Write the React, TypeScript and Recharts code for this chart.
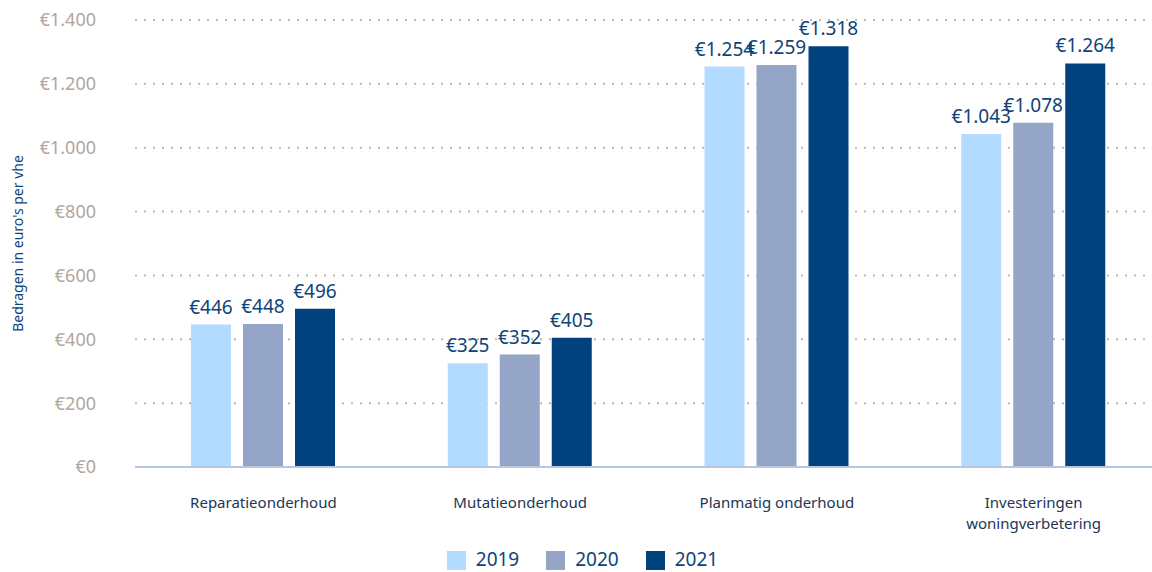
import { BarChart, Bar, XAxis, YAxis, CartesianGrid, Legend, LabelList } from "recharts";

const categories = [
  "Reparatieonderhoud",
  "Mutatieonderhoud",
  "Planmatig onderhoud",
  "Investeringen woningverbetering",
];
const values2019 = [446, 325, 1254, 1043];
const values2020 = [448, 352, 1259, 1078];
const values2021 = [496, 405, 1318, 1264];
const yTicks = [0, 200, 400, 600, 800, 1000, 1200, 1400];

const data = categories.map((name, i) => ({
  name,
  y2019: values2019[i],
  y2020: values2020[i],
  y2021: values2021[i],
}));

const FONT = "'Noto Sans', sans-serif";
const DARK = "#0f4479";

function euro(v: number): string {
  return "€" + v.toLocaleString("de-DE");
}

function CategoryTick({ x, y, payload }: any) {
  const words: string[] = payload.value === "Investeringen woningverbetering"
    ? ["Investeringen", "woningverbetering"]
    : [payload.value];
  return (
    <text x={x} y={y} textAnchor="middle" fill="#1c3558" fontSize={15} fontFamily={FONT}>
      {words.map((w, i) => (
        <tspan key={i} x={x} dy={i === 0 ? 33 : 21}>{w}</tspan>
      ))}
    </text>
  );
}

export default function App() {
  return (
    <div style={{ position: "absolute", left: 0, top: 0 }}>
      <BarChart
        width={1152}
        height={572}
        data={data}
        margin={{ top: 20, right: -10, left: 0, bottom: 0 }}
        barSize={40}
        barGap={12}
      >
        <CartesianGrid
          vertical={false}
          stroke="#c5b8ab"
          strokeDasharray="2 7"
          strokeWidth={2}
        />
        <XAxis
          dataKey="name"
          tick={<CategoryTick />}
          tickLine={false}
          axisLine={{ stroke: "#b9c6e2", strokeWidth: 2 }}
          height={70}
          interval={0}
        />
        <YAxis
          domain={[0, 1400]}
          ticks={yTicks}
          tickFormatter={euro}
          tick={{ fill: "#b3a69b", fontSize: 18, fontFamily: FONT }}
          tickLine={false}
          axisLine={false}
          width={135}
          tickMargin={33}
          label={{
            value: "Bedragen in euro's per vhe",
            angle: -90,
            position: "insideLeft",
            dx: 13,
            dy: 0,
            style: { textAnchor: "middle", fill: DARK, fontSize: 14, fontFamily: FONT },
          }}
        />
        <Legend
          verticalAlign="bottom"
          iconType="square"
          iconSize={19}
          height={35}
          wrapperStyle={{ fontFamily: FONT, fontSize: 19, bottom: -9, left: 15 }}
          formatter={(value: string) => (
            <span style={{ color: DARK, marginLeft: 6, marginRight: 17 }}>{value}</span>
          )}
        />
        <Bar dataKey="y2019" name="2019" fill="#b3daff" isAnimationActive={false}>
          <LabelList dataKey="y2019" position="top" formatter={euro} fill={DARK} fontSize={19} fontFamily={FONT} offset={11} />
        </Bar>
        <Bar dataKey="y2020" name="2020" fill="#94a5c7" isAnimationActive={false}>
          <LabelList dataKey="y2020" position="top" formatter={euro} fill={DARK} fontSize={19} fontFamily={FONT} offset={11} />
        </Bar>
        <Bar dataKey="y2021" name="2021" fill="#00417e" isAnimationActive={false}>
          <LabelList dataKey="y2021" position="top" formatter={euro} fill={DARK} fontSize={19} fontFamily={FONT} offset={11} />
        </Bar>
      </BarChart>
    </div>
  );
}
